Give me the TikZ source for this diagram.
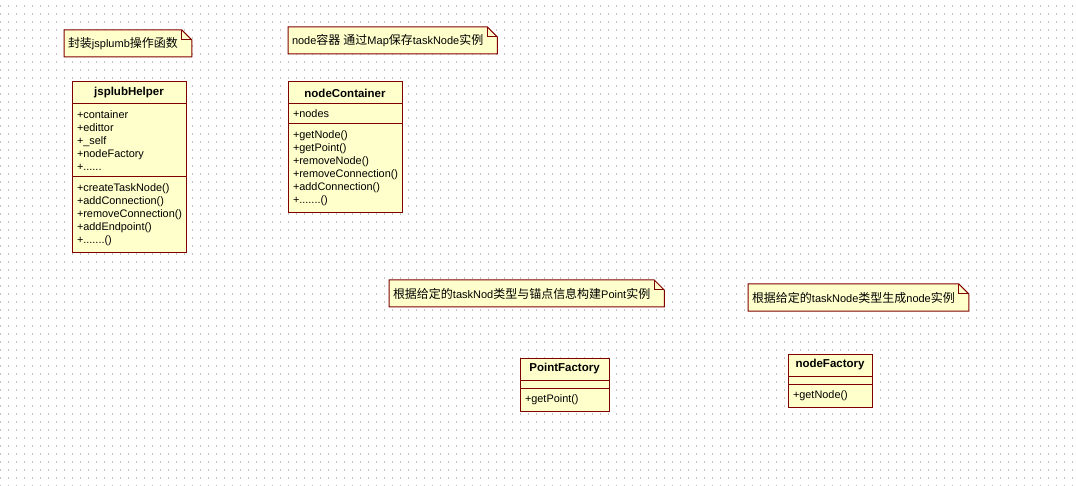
\documentclass[tikz,border=0pt]{standalone}
\usepackage{fontspec}
\setmainfont{Liberation Sans}
\newfontfamily\cjk[Scale=1.09]{Noto Sans CJK SC}
\usepackage{tikz}
\usetikzlibrary{positioning,backgrounds}
\definecolor{umlred} {RGB}{128,  0,  0}
\definecolor{umlfill}{RGB}{255,255,204}
\definecolor{griddot}{RGB}{195,195,195}
\newcommand{\zh}[1]{{\cjk #1}}
\tikzset{
  cls/.style={draw=umlred,fill=umlfill,line width=1pt,outer sep=0pt,
              font=\fontsize{10.9}{13}\selectfont},
  clstitle/.style={cls,anchor=north west,minimum height=22pt,inner sep=0pt,
                   font=\fontsize{11.5}{13}\selectfont\bfseries},
  clsbody/.style={cls,align=left,inner xsep=5pt,inner ysep=1pt},
  clsgap/.style={cls,minimum height=8pt,inner sep=0pt},
  note/.style={anchor=north west,inner xsep=4pt,inner ysep=0pt,outer sep=0pt,
               minimum height=27pt,font=\fontsize{11}{13}\selectfont},
  noteline/.style={draw=umlred,line width=1pt},
  gridrow/.style={draw=griddot,line width=1.3pt,dash pattern=on 1.3pt off 6.7pt},
}
% note outline with folded corner
\newcommand{\umlnote}[1]{%
  \begin{scope}[on background layer]
    \draw[noteline,fill=umlfill](#1.south west)--(#1.north west)--(#1.north east)
      --([xshift=10pt,yshift=-10pt]#1.north east)--([xshift=10pt]#1.south east)--cycle;
  \end{scope}
  \draw[noteline](#1.north east)--([yshift=-10pt]#1.north east)
    --([xshift=10pt,yshift=-10pt]#1.north east);
}

\begin{document}
\begin{tikzpicture}[x=1pt,y=-1pt]
  \useasboundingbox (0,0) rectangle (1076,486);
  % dotted grid
  \begin{scope}[on background layer]
    \fill[white](0,0) rectangle (1076,486);
    \foreach \gy in {6,14,...,486}
      \draw[gridrow](0,\gy)--(1076,\gy);
  \end{scope}

  % jsplubHelper
  \node[note](helpernote) at (64,30){\zh{封装}jsplumb\zh{操作函数}};
  \umlnote{helpernote}
  \node[clstitle,minimum width=114pt](helper) at (72,82){jsplubHelper};
  \node[clsbody,text width=104pt,minimum height=73pt,below=0pt of helper](helperattr)
    {+container\\+edittor\\+\_self\\+nodeFactory\\+......};
  \node[clsbody,text width=104pt,minimum height=76pt,below=0pt of helperattr](helperops)
    {+createTaskNode()\\+addConnection()\\+removeConnection()\\+addEndpoint()\\+.......()};

  % nodeContainer
  \node[note](containernote) at (288,27){node\zh{容器} \zh{通过}Map\zh{保存}taskNode\zh{实例}};
  \umlnote{containernote}
  \node[clstitle,minimum width=114pt](container) at (288,82){nodeContainer};
  \node[clsbody,text width=104pt,minimum height=20pt,below=0pt of container](containerattr)
    {+nodes};
  \node[clsbody,text width=104pt,minimum height=89pt,below=0pt of containerattr](containerops)
    {+getNode()\\+getPoint()\\+removeNode()\\+removeConnection()\\+addConnection()\\+.......()};

  % PointFactory
  \node[note](pointnote) at (389,280){\zh{根据给定的}taskNod\zh{类型与锚点信息构建}Point\zh{实例}};
  \umlnote{pointnote}
  \node[clstitle,minimum width=89pt](point) at (520,358){PointFactory};
  \node[clsgap,minimum width=89pt,below=0pt of point](pointattr){};
  \node[clsbody,text width=79pt,minimum height=23pt,below=0pt of pointattr](pointops)
    {+getPoint()};

  % nodeFactory
  \node[note](factorynote) at (748,284){\zh{根据给定的}taskNode\zh{类型生成}node\zh{实例}};
  \umlnote{factorynote}
  \node[clstitle,minimum width=84pt](factory) at (788,354){nodeFactory};
  \node[clsgap,minimum width=84pt,below=0pt of factory](factoryattr){};
  \node[clsbody,text width=74pt,minimum height=23pt,below=0pt of factoryattr](factoryops)
    {+getNode()};
\end{tikzpicture}
\end{document}
